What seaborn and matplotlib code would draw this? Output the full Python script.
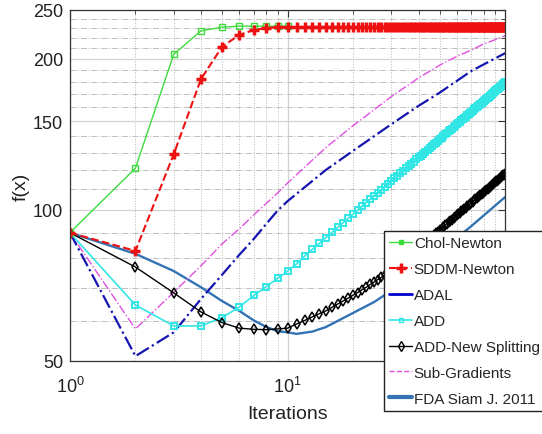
import matplotlib
matplotlib.use('Agg')
import matplotlib.pyplot as plt
import seaborn as sns
from matplotlib.lines import Line2D
from matplotlib.ticker import FixedLocator, FixedFormatter, NullFormatter

# iterations
iters = list(range(1, 101))

# Chol-Newton
chol_x = [1, 2, 3, 4, 5, 6, 7, 8, 9, 10]
chol_f = [90, 121, 204, 227, 231, 232, 232, 232, 232, 232]

# SDDM-Newton
sddm_f = [90, 82.8, 129, 182, 211, 223, 228, 230] + [231] * 92

# ADAL
adal_x = [1, 2, 3, 4, 5, 6, 7, 8, 9, 10, 15, 20, 30, 40, 50, 70, 100]
adal_f = [90, 51.1, 57, 66.4, 74.2, 81.3, 87.5, 93.8, 99.6, 104, 120, 131, 148, 161, 171, 189, 205]

# ADD
add_f = [90, 64.6, 58.7, 58.7, 61, 64, 67.5, 70.3, 73, 75.5, 78, 80.9,
         83.4, 85.7, 88.0, 90.1, 92.2, 94.2, 96.1, 98.0,
         99.8, 101.5, 103.3, 104.9, 106.5, 108.1, 109.6, 111.2, 112.6, 114.1,
         115.5, 116.9, 118.2, 119.6, 120.9, 122.1, 123.4, 124.6, 125.9, 127.1,
         128.2, 129.4, 130.6, 131.7, 132.8, 133.9, 135.0, 136.0, 137.1, 138.1,
         139.2, 140.2, 141.2, 142.2, 143.2, 144.1, 145.1, 146.1, 147.0, 147.9,
         148.9, 149.8, 150.7, 151.6, 152.4, 153.3, 154.2, 155.0, 155.9, 156.7,
         157.6, 158.4, 159.2, 160.0, 160.9, 161.7, 162.4, 163.2, 164.0, 164.8,
         165.5, 166.3, 167.1, 167.8, 168.6, 169.3, 170.0, 170.8, 171.5, 172.2,
         172.9, 173.6, 174.3, 175.0, 175.7, 176.4, 177.1, 177.8, 178.5, 179.2]

# ADD-New Splitting
adds_f = [90, 76.9, 68.3, 62.6, 59.6, 58.1, 57.8, 57.7, 57.9, 58.1,
          59.2, 60.2, 61.2, 62.1, 62.9, 63.9, 64.9, 65.8, 66.7, 67.6,
          68.4, 69.3, 70.1, 71.0, 71.8, 72.6, 73.3, 74.2, 75.1, 76.0,
          76.9, 77.8, 78.6, 79.4, 80.3, 81.1, 81.9, 82.6, 83.4, 84.1,
          84.9, 85.6, 86.3, 87.0, 87.7, 88.4, 89.1, 89.7, 90.4, 91.1,
          91.7, 92.4, 93.1, 93.7, 94.4, 95.0, 95.6, 96.3, 96.9, 97.5,
          98.1, 98.7, 99.3, 99.9, 100.4, 101.0, 101.6, 102.1, 102.7, 103.3,
          103.8, 104.4, 104.9, 105.4, 106.0, 106.5, 107.0, 107.5, 108.0, 108.5,
          109.0, 109.5, 110.0, 110.5, 111.0, 111.5, 112.0, 112.5, 112.9, 113.4,
          113.9, 114.3, 114.8, 115.3, 115.7, 116.2, 116.6, 117.0, 117.5, 118.0]

# Sub-Gradients
sub_x = [1, 2, 3, 4, 5, 6, 7, 8, 9, 10, 15, 20, 30, 40, 50, 60, 70, 80, 90, 100]
sub_f = [90, 57.9, 68.5, 77.3, 85.5, 91.6, 97.7, 103, 108, 113, 133, 147, 168, 183, 194, 202, 208, 214, 218, 222]

# FDA Siam J. 2011
fda_x = [1, 2, 3, 4, 5, 6, 7, 8, 9, 10, 11, 13, 15, 20, 25, 30, 40, 50, 70, 100]
fda_f = [90, 81.7, 75.5, 70.1, 65.8, 62.9, 60.2, 58.4, 57.3, 57.0, 56.6, 57.2, 58.4, 62.3, 65.5, 69, 76, 82.5, 92.8, 106]

labels = ['Chol-Newton', 'SDDM-Newton', 'ADAL', 'ADD', 'ADD-New Splitting',
          'Sub-Gradients', 'FDA Siam J. 2011']

c_green = '#3ddc3d'
c_red = '#ee1111'
c_blue = '#1515b0'
c_cyan = '#33e6e6'
c_mag = '#e050e0'
c_fda = '#3373b3'

sns.set_style('white')
plt.rcParams['font.family'] = ['Liberation Sans', 'DejaVu Sans']
plt.rcParams['mathtext.fontset'] = 'custom'
plt.rcParams['mathtext.rm'] = 'Liberation Sans'
plt.rcParams['mathtext.it'] = 'Liberation Sans'

fig = plt.figure(figsize=(5.42, 4.35), dpi=100)
ax = fig.add_axes([0.129, 0.168, 0.803, 0.807])

sns.lineplot(x=fda_x, y=fda_f, ax=ax, color=c_fda, lw=1.7, legend=False)
sns.lineplot(x=sub_x, y=sub_f, ax=ax, color=c_mag, lw=1.0, linestyle='-.', legend=False)
sns.lineplot(x=adal_x, y=adal_f, ax=ax, color=c_blue, lw=1.6, linestyle='-.', legend=False)
sns.lineplot(x=iters, y=add_f, ax=ax, color=c_cyan, lw=1.2, marker='s', markersize=4.8,
             markerfacecolor='none', markeredgecolor=c_cyan, markeredgewidth=1.4, legend=False)
sns.lineplot(x=iters, y=adds_f, ax=ax, color='black', lw=1.0, marker='d', markersize=5.5,
             markerfacecolor='none', markeredgecolor='black', markeredgewidth=1.1, legend=False)
sns.lineplot(x=chol_x, y=chol_f, ax=ax, color=c_green, lw=1.0, marker='s', markersize=4,
             markerfacecolor='none', markeredgecolor=c_green, markeredgewidth=1.0, legend=False)
sns.lineplot(x=iters, y=sddm_f, ax=ax, color=c_red, lw=1.5, linestyle='--', marker='+',
             markersize=6.5, markeredgecolor=c_red, markeredgewidth=2.5, legend=False)

ax.set_xscale('log')
ax.set_yscale('log')
ax.set_xlim(1, 100)
ax.set_ylim(50, 250)

ax.xaxis.set_major_locator(FixedLocator([1, 10]))
ax.xaxis.set_major_formatter(FixedFormatter(['$10^0$', '$10^1$']))
ax.xaxis.set_minor_locator(FixedLocator([2, 3, 4, 5, 6, 7, 8, 9, 20, 30, 40, 50, 60, 70, 80, 90]))
ax.xaxis.set_minor_formatter(NullFormatter())
ax.yaxis.set_major_locator(FixedLocator([50, 100, 150, 200, 250]))
ax.yaxis.set_major_formatter(FixedFormatter(['50', '100', '150', '200', '250']))
ax.yaxis.set_minor_locator(FixedLocator([60, 70, 80, 90, 110, 120, 130, 140, 160, 170, 180,
                                         190, 210, 220, 230, 240]))
ax.yaxis.set_minor_formatter(NullFormatter())

ax.grid(True, which='major', color='#d2d2d2', lw=0.9, ls='-')
ax.xaxis.grid(True, which='minor', color='#b8b8b8', lw=0.7, ls=':')
ax.yaxis.grid(True, which='minor', color='#c0c0c0', lw=0.7, ls='-.')
ax.set_axisbelow(True)

ax.tick_params(which='both', direction='in', top=True, right=True, colors='#333333',
               labelcolor='#222222', labelsize=13)
ax.tick_params(which='major', length=5)
ax.tick_params(which='minor', length=3)
ax.tick_params(axis='x', which='major', pad=11)
ax.tick_params(axis='y', which='major', pad=5)
for s in ax.spines.values():
    s.set_color('#333333')
    s.set_linewidth(0.9)

ax.set_xlabel('Iterations', fontsize=14, color='#222222', labelpad=6)
ax.set_ylabel('f(x)', fontsize=14, color='#222222', labelpad=2)

handles = [
    Line2D([], [], color=c_green, lw=1.0, marker='s', markersize=3.5, markerfacecolor=c_green),
    Line2D([], [], color=c_red, lw=1.5, ls='--', marker='+', markersize=7, markeredgewidth=2.5),
    Line2D([], [], color='#0000cc', lw=2.0),
    Line2D([], [], color=c_cyan, lw=1.2, marker='s', markersize=3.5, markerfacecolor='none'),
    Line2D([], [], color='black', lw=1.0, marker='d', markersize=5, markerfacecolor='none'),
    Line2D([], [], color=c_mag, lw=1.0, ls='--'),
    Line2D([], [], color=c_fda, lw=3.0),
]
leg = fig.legend(handles, labels, loc='upper left', bbox_to_anchor=(0.7085, 0.467),
                 fontsize=11, frameon=True, fancybox=False, framealpha=1,
                 edgecolor='#222222', handlelength=1.5, handletextpad=0.1,
                 labelspacing=0.78, borderpad=0.35, borderaxespad=0)
leg.get_frame().set_linewidth(1.0)

fig.savefig('out.png', dpi=100)
